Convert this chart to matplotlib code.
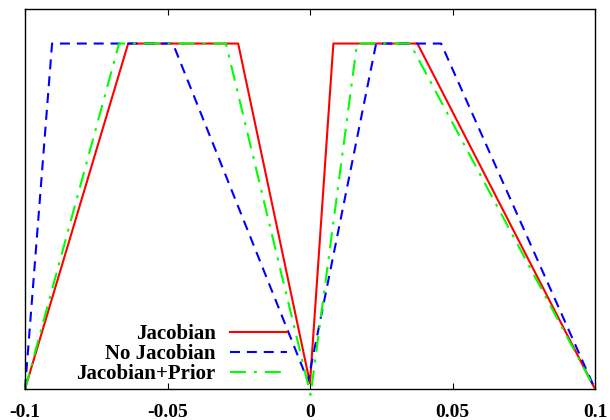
import matplotlib.pyplot as plt
import numpy as np

# values
jac_x = [-0.1, -0.0638, -0.0252, 0.0, 0.0082, 0.0377, 0.1]
jac_y = [0.0, 1.0, 1.0, 0.017, 1.0, 1.0, 0.0]

nojac_x = [-0.1, -0.0905, -0.0481, -0.0007, 0.0232, 0.046, 0.1]
nojac_y = [0.0, 1.0, 1.0, 0.023, 1.0, 1.0, 0.0]

prior_x = [-0.1, -0.067, -0.0295, 0.0002, 0.0165, 0.0351, 0.1]
prior_y = [0.0, 1.0, 1.0, -0.017, 1.0, 1.0, 0.0]

xticks = [-0.1, -0.05, 0, 0.05, 0.1]
xticklabels = ['-0.1', '-0.05', '0', '0.05', '0.1']

plt.rcParams['font.family'] = ['Liberation Serif', 'DejaVu Serif']
plt.rcParams['font.weight'] = 'bold'

fig = plt.figure(figsize=(6.1, 4.2), dpi=100)
ax = fig.add_axes([25/610, 31/420, 570/610, 380/420])

ax.plot(jac_x, jac_y, color='#ff0000', lw=1.5, label='Jacobian', clip_on=False)
ax.plot(nojac_x, nojac_y, color='#0000ff', lw=1.5, dashes=(4.8, 3.3),
        label='No Jacobian', clip_on=False)
ax.plot(prior_x, prior_y, color='#00ff00', lw=1.5, dashes=(7.7, 3.8, 1.4, 3.8),
        label='Jacobian+Prior', clip_on=False)

ax.set_xlim(-0.1, 0.1)
ax.set_ylim(0, 1.1)
ax.set_xticks(xticks)
ax.set_xticklabels(xticklabels, fontsize=14, fontweight='bold')
ax.set_yticks([])
ax.tick_params(axis='x', direction='in', top=True, length=4, width=0.8, pad=11)
for s in ax.spines.values():
    s.set_linewidth(1.0)

ax.legend(loc='lower right', bbox_to_anchor=(0.481, -0.021), frameon=False,
          markerfirst=False, handlelength=2.74, handletextpad=0.67,
          labelspacing=0.0, borderaxespad=0.2,
          prop={'size': 15, 'weight': 'bold'})

fig.savefig('out.png', dpi=100)
